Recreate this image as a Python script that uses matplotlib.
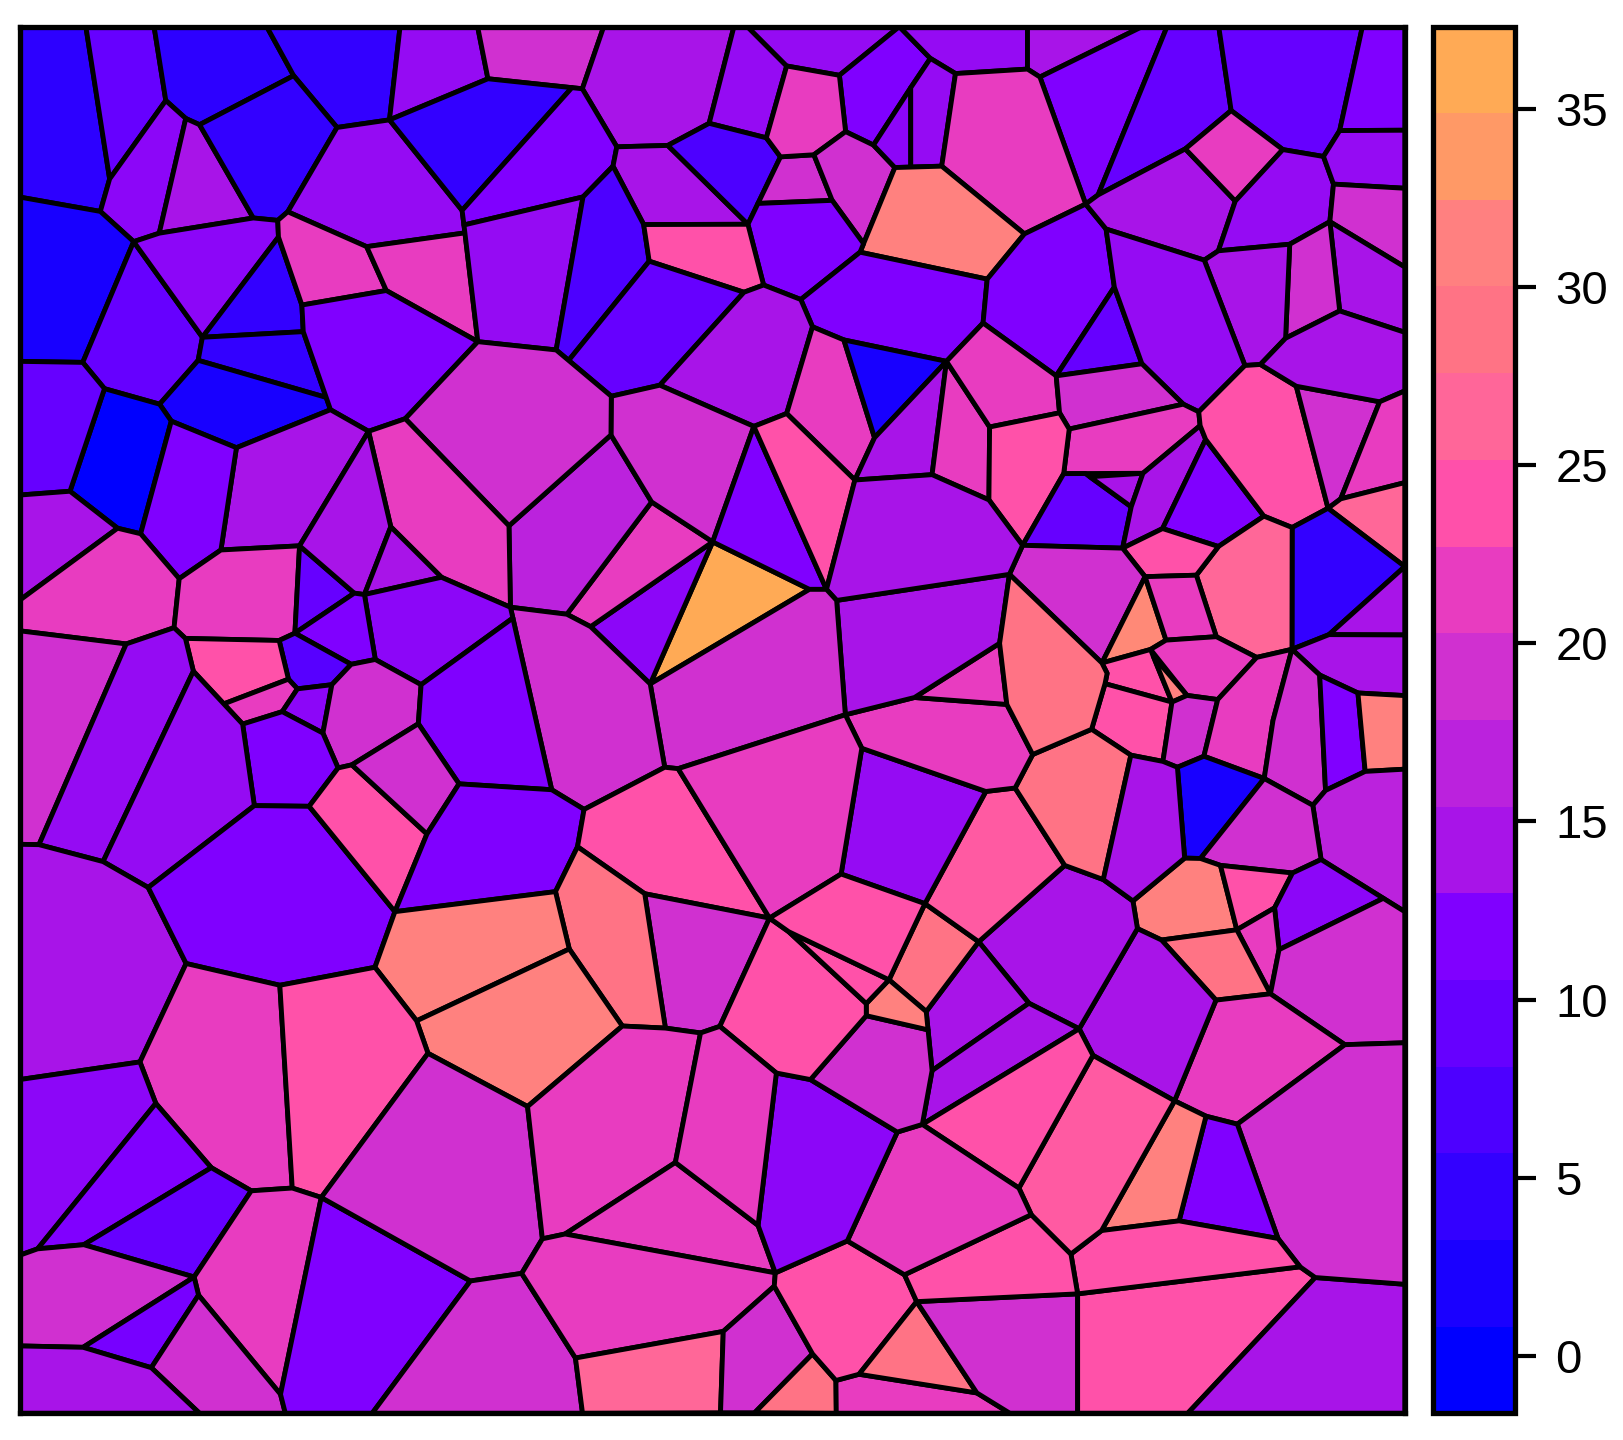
import matplotlib
matplotlib.use("Agg")
import matplotlib.pyplot as plt
import numpy as np
from matplotlib.collections import PolyCollection
from matplotlib.colors import BoundaryNorm, LinearSegmentedColormap, ListedColormap, Normalize
from matplotlib.cm import ScalarMappable

plt.rcParams["font.family"] = ["Liberation Sans", "DejaVu Sans"]

# colour key
band_edges = [-1.61, 0.82, 3.25, 5.69, 8.12, 10.55, 12.98, 15.41, 17.85, 20.28, 22.71, 25.14, 27.57, 30.01, 32.44, 34.87, 37.3]
band_colors = ["#0000FF", "#1A00FF", "#3300FF", "#4D00FF", "#6600FF", "#8000FF", "#A814E8", "#BB22DD",
               "#D030D0", "#E83CC0", "#FF50AA", "#FF6699", "#FF7385", "#FF8080", "#FF9966", "#FFAA55"]
key_ticks = [0, 5, 10, 15, 20, 25, 30, 35]

# one outline per cell
cell_polygons = [
    [(18,26),(82,26),(105,173),(96,204),(18,190)],
    [(82,26),(148,26),(159,97),(105,173)],
    [(148,26),(257,26),(283,73),(192,120),(178,114),(159,97)],
    [(257,26),(386,26),(373,116),(325,124),(283,73)],
    [(386,26),(461,26),(471,76),(376,116)],
    [(461,26),(583,26),(563,86),(471,76)],
    [(583,26),(709,26),(685,119),(645,140),(596,142),(563,86)],
    [(709,26),(722,26),(760,64),(741,133),(685,119)],
    [(722,26),(869,26),(811,73),(760,64)],
    [(869,26),(899,56),(880,85),(844,140),(817,127),(811,73)],
    [(869,26),(993,26),(993,67),(924,71),(899,56)],
    [(993,26),(1104,26),(1005,74),(993,67)],
    [(1104,26),(1128,26),(1061,187),(1048,197),(1005,74)],
    [(1128,26),(1178,26),(1190,105),(1145,141),(1061,187)],
    [(1178,26),(1317,26),(1295,125),(1279,151),(1240,141),(1190,105)],
    [(1317,26),(1358,26),(1358,126),(1295,125)],
    [(105,173),(160,98),(179,115),(153,225),(128,233),(97,205)],
    [(179,115),(192,121),(244,211),(153,225)],
    [(192,121),(283,74),(325,123),(277,205),(267,212),(244,210)],
    [(325,123),(377,116),(446,204),(449,224),(353,238),(277,204)],
    [(377,116),(471,77),(552,87),(446,202)],
    [(561,86),(595,142),(592,160),(562,189),(450,217),(446,204),(552,87)],
    [(596,142),(645,141),(722,216),(621,217),(592,160)],
    [(645,141),(685,120),(740,134),(754,152),(722,217)],
    [(754,152),(786,149),(804,194),(735,198)],
    [(740,133),(760,64),(811,73),(817,127),(786,149),(754,151)],
    [(817,128),(844,141),(864,162),(831,233),(804,193),(787,151)],
    [(844,140),(880,85),(880,160),(864,162)],
    [(880,85),(899,58),(923,72),(910,160),(880,160)],
    [(923,71),(993,67),(1005,76),(1048,196),(990,226),(910,162)],
    [(866,162),(910,160),(990,226),(954,269),(831,243)],
    [(735,198),(804,194),(831,235),(831,243),(774,289),(739,275),(723,217)],
    [(831,245),(954,270),(950,312),(918,348),(816,326),(785,313),(774,289)],
    [(954,270),(990,226),(1048,197),(1068,220),(1077,277),(1020,364),(950,312)],
    [(1077,278),(1103,352),(1024,362)],
    [(1053,199),(1062,191),(1145,146),(1194,194),(1177,242),(1163,251),(1068,222)],
    [(1147,145),(1190,111),(1239,146),(1194,194)],
    [(1241,147),(1279,152),(1289,177),(1284,212),(1246,235),(1179,242),(1194,195)],
    [(1295,129),(1358,126),(1358,181),(1289,177),(1280,151)],
    [(1289,180),(1358,183),(1358,257),(1286,213)],
    [(1288,217),(1358,259),(1358,321),(1295,300)],
    [(1248,237),(1284,215),(1295,299),(1243,326)],
    [(1166,252),(1177,243),(1246,236),(1242,327),(1218,352),(1204,352)],
    [(1071,222),(1163,251),(1202,353),(1158,397),(1144,390),(1104,350),(1077,277)],
    [(18,191),(95,204),(128,233),(79,350),(18,348)],
    [(128,235),(193,326),(190,348),(153,390),(100,375),(79,350)],
    [(129,233),(153,226),(244,211),(267,214),(268,228),(194,326)],
    [(268,231),(290,295),(292,319),(197,325)],
    [(195,326),(292,321),(314,384),(191,348)],
    [(191,348),(314,384),(318,395),(228,431),(165,406),(154,390)],
    [(100,376),(153,391),(164,406),(134,514),(113,509),(67,474)],
    [(18,350),(79,350),(100,375),(67,474),(18,478)],
    [(269,213),(278,205),(353,238),(372,280),(290,294),(269,228)],
    [(355,239),(449,226),(463,328),(457,332),(373,280)],
    [(293,295),(373,282),(457,332),(390,404),(357,413),(318,395),(293,321)],
    [(450,217),(562,191),(537,337),(466,328)],
    [(565,191),(592,162),(621,217),(627,252),(552,344),(537,337)],
    [(623,217),(723,217),(736,275),(718,280),(627,252)],
    [(627,253),(718,283),(636,372),(591,382),(553,344)],
    [(720,284),(738,276),(773,290),(785,317),(760,399),(727,410),(638,372)],
    [(785,317),(813,328),(845,424),(825,463),(760,399)],
    [(817,331),(909,351),(845,420)],
    [(911,350),(900,458),(827,463),(845,424)],
    [(915,350),(955,412),(956,480),(902,458)],
    [(920,346),(950,312),(1019,362),(1024,398),(956,412)],
    [(1020,364),(1104,352),(1143,390),(1033,413),(1024,398)],
    [(1034,415),(1144,391),(1158,398),(1158,410),(1105,456),(1028,457)],
    [(958,413),(1024,400),(1033,415),(1028,457),(987,524),(956,484)],
    [(1028,458),(1049,460),(1093,490),(1084,529),(990,528)],
    [(1057,460),(1104,457),(1093,488)],
    [(1105,458),(1162,413),(1165,424),(1123,510),(1086,527),(1094,490)],
    [(1165,428),(1221,498),(1178,527),(1125,509)],
    [(1204,354),(1217,352),(1252,372),(1283,491),(1249,508),(1222,498),(1166,421),(1160,410),(1160,398)],
    [(1255,375),(1333,388),(1295,482),(1284,490)],
    [(1220,352),(1243,327),(1295,302),(1358,321),(1358,377),(1333,387),(1252,372)],
    [(1335,389),(1358,378),(1358,466),(1296,481)],
    [(1284,491),(1297,482),(1358,466),(1358,546)],
    [(1250,510),(1284,491),(1358,546),(1284,612),(1253,624)],
    [(1284,612),(1358,549),(1358,612)],
    [(1253,626),(1286,614),(1358,614),(1358,671),(1312,669),(1275,651)],
    [(1179,528),(1222,499),(1248,510),(1252,624),(1244,629),(1215,633),(1176,614),(1157,554)],
    [(1087,530),(1123,512),(1176,528),(1156,554),(1108,555)],
    [(989,530),(1083,531),(1102,554),(1065,640),(978,554)],
    [(1104,560),(1125,614),(1112,627),(1065,640)],
    [(1113,558),(1156,558),(1175,614),(1128,619)],
    [(1128,621),(1176,616),(1214,635),(1177,674),(1148,671),(1112,627)],
    [(1065,640),(1112,627),(1133,678),(1068,660),(1070,650)],
    [(1115,634),(1146,670),(1133,675)],
    [(1068,660),(1132,680),(1124,735),(1093,727),(1055,703)],
    [(1133,678),(1148,673),(1177,676),(1167,705),(1164,729),(1138,740),(1124,735)],
    [(1177,676),(1215,636),(1243,630),(1230,695),(1221,749),(1164,730)],
    [(1248,628),(1275,652),(1277,696),(1281,763),(1268,776),(1222,751),(1231,696)],
    [(1277,652),(1311,668),(1317,745),(1282,762)],
    [(1315,670),(1358,672),(1358,742),(1321,744)],
    [(1321,745),(1358,743),(1358,879),(1277,829),(1270,777),(1281,764)],
    [(1139,742),(1163,731),(1221,751),(1159,828),(1145,828)],
    [(1224,755),(1269,779),(1277,828),(1250,841),(1179,834),(1162,828)],
    [(1095,871),(1145,830),(1160,830),(1178,835),(1196,897),(1123,906),(1100,896)],
    [(1182,837),(1248,843),(1231,875),(1198,893)],
    [(1250,844),(1277,832),(1332,870),(1237,915),(1234,876)],
    [(1195,898),(1231,878),(1234,916),(1228,957)],
    [(1125,908),(1193,902),(1226,959),(1176,964)],
    [(1238,919),(1337,873),(1358,881),(1358,1006),(1301,1008),(1230,960)],
    [(1176,967),(1228,961),(1299,1008),(1196,1083),(1166,1076),(1136,1063)],
    [(1100,897),(1120,908),(1174,965),(1133,1057),(1057,1018),(1045,993)],
    [(947,911),(1029,836),(1066,851),(1095,870),(1098,896),(1043,990),(995,967)],
    [(946,910),(993,968),(901,1030),(896,977)],
    [(995,970),(1042,993),(893,1081),(901,1035)],
    [(896,873),(944,908),(896,975),(860,945)],
    [(981,761),(1029,835),(946,907),(895,872),(953,764)],
    [(982,760),(998,729),(1055,706),(1093,729),(1066,848),(1029,835)],
    [(1093,731),(1124,735),(1137,740),(1145,827),(1095,868),(1067,848)],
    [(833,723),(952,764),(893,871),(813,843)],
    [(817,690),(882,674),(973,680),(998,729),(980,761),(953,764),(833,722)],
    [(885,673),(966,621),(973,680)],
    [(809,580),(976,555),(966,621),(884,673),(817,690)],
    [(973,556),(1065,640),(1070,650),(1068,660),(1055,703),(998,727),(973,680),(966,621)],
    [(688,524),(782,569),(628,660)],
    [(571,606),(688,524),(628,660)],
    [(550,594),(629,486),(688,524),(569,603)],
    [(492,508),(590,420),(629,484),(547,592),(493,587)],
    [(590,383),(638,372),(727,410),(690,520),(630,484),(590,420)],
    [(393,404),(463,330),(537,340),(590,383),(590,420),(491,507)],
    [(728,412),(798,569),(782,569),(688,524)],
    [(731,415),(760,400),(825,463),(800,565)],
    [(827,465),(900,459),(955,484),(987,524),(975,553),(809,578),(800,570)],
    [(628,661),(782,569),(796,572),(807,581),(816,688),(650,742),(642,740)],
    [(494,590),(545,593),(571,606),(628,660),(642,740),(565,780),(533,762)],
    [(355,418),(390,405),(491,508),(493,585),(426,556),(377,506)],
    [(228,433),(320,397),(355,417),(288,528),(213,531)],
    [(165,408),(227,433),(213,530),(173,557),(136,515)],
    [(18,478),(66,475),(112,510),(18,578)],
    [(18,581),(113,511),(135,517),(171,559),(167,605),(121,621),(18,608)],
    [(173,560),(212,532),(290,528),(282,610),(269,617),(177,615),(168,606)],
    [(289,527),(343,572),(283,610)],
    [(288,525),(355,418),(377,508),(350,572),(341,572)],
    [(377,512),(426,557),(353,572)],
    [(353,576),(426,559),(491,583),(491,597),(406,660),(363,636)],
    [(341,574),(350,576),(361,636),(339,641),(286,612)],
    [(271,619),(286,613),(338,641),(319,661),(287,665),(278,655)],
    [(180,619),(267,619),(276,655),(216,676),(185,647)],
    [(217,681),(280,657),(285,665),(271,687),(233,697)],
    [(273,686),(288,665),(318,662),(311,707)],
    [(323,660),(339,642),(362,638),(406,661),(403,698),(339,738),(326,740),(313,708)],
    [(407,662),(492,598),(533,762),(443,756),(404,698)],
    [(235,700),(272,688),(310,708),(326,742),(298,778),(245,777)],
    [(18,610),(120,622),(36,815),(18,814)],
    [(122,622),(167,607),(178,615),(185,647),(98,830),(38,815)],
    [(188,650),(233,700),(245,777),(142,856),(100,832)],
    [(18,816),(36,816),(98,833),(142,857),(179,930),(134,1024),(18,1041)],
    [(245,779),(298,779),(381,881),(361,933),(270,951),(178,929),(143,857)],
    [(298,778),(326,742),(337,739),(412,806),(381,878)],
    [(342,738),(404,700),(443,757),(412,803)],
    [(443,757),(532,763),(562,781),(557,816),(536,860),(381,879),(412,806)],
    [(565,783),(642,742),(655,742),(741,884),(623,862),(558,817)],
    [(660,742),(817,692),(832,722),(812,843),(744,884)],
    [(624,864),(740,885),(695,990),(677,996),(643,992)],
    [(558,819),(621,862),(642,991),(601,990),(549,915),(537,860)],
    [(381,882),(536,862),(550,915),(401,984),(363,933)],
    [(404,986),(550,918),(601,990),(509,1067),(413,1017)],
    [(180,931),(268,951),(282,1146),(243,1148),(204,1126),(150,1064),(135,1025)],
    [(271,951),(361,935),(401,986),(413,1016),(313,1155),(282,1146)],
    [(18,1043),(134,1026),(149,1064),(35,1205),(18,1211)],
    [(36,1206),(150,1067),(203,1126),(78,1201)],
    [(84,1201),(203,1129),(240,1150),(187,1230)],
    [(243,1150),(281,1148),(305,1156),(270,1345),(191,1248),(188,1234)],
    [(18,1212),(35,1205),(78,1202),(186,1232),(78,1300),(18,1298)],
    [(82,1300),(186,1234),(191,1250),(145,1319)],
    [(191,1252),(270,1347),(274,1364),(193,1364),(147,1320)],
    [(18,1300),(78,1301),(144,1321),(191,1364),(18,1364)],
    [(308,1157),(452,1236),(357,1364),(276,1364),(271,1345)],
    [(313,1155),(413,1017),(509,1067),(523,1196),(503,1228),(455,1236)],
    [(503,1230),(554,1311),(562,1364),(361,1364),(455,1237)],
    [(510,1070),(601,991),(643,994),(675,997),(652,1121),(543,1190),(524,1194)],
    [(549,1191),(652,1123),(731,1183),(749,1227)],
    [(505,1229),(524,1197),(545,1192),(748,1229),(750,1240),(699,1284),(556,1309)],
    [(557,1312),(699,1286),(696,1364),(563,1364)],
    [(698,1285),(747,1243),(785,1305),(727,1363),(696,1363)],
    [(731,1364),(785,1310),(806,1332),(807,1364)],
    [(809,1334),(831,1328),(944,1345),(974,1364),(809,1364)],
    [(749,1232),(818,1199),(873,1231),(884,1258),(829,1325),(808,1331),(785,1305),(747,1241)],
    [(884,1258),(944,1344),(830,1326)],
    [(888,1256),(1040,1250),(1041,1364),(978,1364),(944,1344)],
    [(1044,1250),(1257,1225),(1270,1233),(1146,1364),(1042,1364)],
    [(1272,1233),(1358,1240),(1358,1364),(1150,1364)],
    [(1197,1086),(1300,1009),(1358,1007),(1358,1239),(1272,1233),(1258,1221),(1237,1196)],
    [(1167,1079),(1195,1086),(1234,1193),(1142,1178)],
    [(1138,1067),(1164,1077),(1138,1177),(1068,1186)],
    [(1064,1189),(1139,1180),(1235,1197),(1255,1222),(1042,1247),(1035,1211)],
    [(876,1231),(996,1174),(1035,1211),(1040,1248),(887,1253)],
    [(986,1147),(1057,1019),(1134,1063),(1062,1188),(1035,1209),(997,1171)],
    [(893,1086),(1042,996),(1055,1019),(984,1146)],
    [(821,1197),(867,1094),(889,1088),(984,1147),(997,1172),(873,1229)],
    [(750,1037),(782,1044),(867,1092),(817,1197),(750,1226),(734,1183)],
    [(785,1041),(836,983),(892,996),(900,1035),(890,1086),(867,1092)],
    [(838,971),(859,950),(893,977),(892,993),(839,979)],
    [(696,990),(745,891),(762,900),(836,968),(836,979),(782,1041),(750,1033)],
    [(762,899),(858,946),(837,967)],
    [(747,887),(813,845),(891,873),(859,942),(762,899)],
    [(678,998),(695,992),(750,1037),(732,1182),(653,1122)],
]

cell_values = [
    4, 9.3, 4, 4.5, 13, 19.1, 14.2, 13, 13, 11.8,
    13, 14.2, 11.8, 9.3, 9.3, 11.8, 12.5, 14.2, 4.5, 13,
    4.5, 11.8, 14.2, 6.9, 19.1, 21.5, 19.1, 12.5, 13, 21.5,
    31.3, 11.8, 11.8, 11.8, 9.3, 14.2, 21.5, 13, 13, 19.1,
    14.2, 19.1, 14.2, 13, 2, 9.3, 12.5, 4.5, 4.5, 2,
    -0.4, 9.3, 21.5, 21.5, 11.8, 13, 6.9, 24, 9.3, 14.2,
    21.5, 2, 14.2, 21.5, 21.5, 19.1, 21.5, 24, 9.3, 14.2,
    14.2, 11.8, 24, 19.1, 14.2, 21.5, 26.4, 4.5, 14.2, 14.2,
    26.4, 24, 19.1, 32, 21.5, 21.5, 24, 31.3, 24, 19.1,
    21.5, 19.1, 11.8, 31.3, 16.6, 2, 19.1, 31.3, 24, 12.5,
    21.5, 28.8, 19.1, 21.5, 14.2, 14.2, 14.2, 14.2, 28.8, 25,
    28.8, 14.2, 13, 21.5, 21.5, 14.2, 28.8, 36.1, 12.5, 21.5,
    16.6, 19.1, 19.1, 11.8, 24, 14.2, 19.1, 19.1, 21.5, 14.2,
    11.8, 14.2, 21.5, 21.5, 9.3, 14.2, 14.2, 12.5, 11.8, 8,
    24, 21.5, 12.5, 19.1, 11.8, 11.8, 19.1, 13, 13, 14.2,
    11.8, 24, 19.1, 11.8, 24, 21.5, 19.1, 28.8, 31.3, 31.3,
    21.5, 24, 12.5, 11.8, 9.3, 21.5, 19.1, 11, 19.1, 14.2,
    11.8, 19.1, 19.1, 21.5, 21.5, 21.5, 26.4, 19.1, 28.8, 21.5,
    24, 28.8, 19.1, 24, 14.2, 19.1, 11.8, 31.3, 24, 24,
    25, 24, 21.5, 12.5, 19.1, 31.3, 24, 24, 24, 21.5,
]


def snap_corners(polygons, radius=7.0, edge_gap=6.0):
    # corners were read one cell at a time, so shared ones differ by a few units
    sizes = [len(p) for p in polygons]
    pts = np.array([c for p in polygons for c in p], dtype=float)
    labels = np.arange(len(pts))
    for i in range(len(pts)):
        near = np.where(np.hypot(*(pts - pts[i]).T) < radius)[0]
        labels[np.isin(labels, labels[near])] = labels[i]
    for lab in np.unique(labels):
        pts[labels == lab] = pts[labels == lab].mean(axis=0)
    # corners that land just beside a neighbour's edge go onto that edge
    ends = np.cumsum(sizes)
    starts = ends - np.array(sizes)
    for _ in range(3):
        for i in range(len(pts)):
            best, target = edge_gap, None
            for s, e in zip(starts, ends):
                idx = list(range(s, e))
                for a, b in zip(idx, idx[1:] + idx[:1]):
                    seg = pts[b] - pts[a]
                    length2 = seg @ seg
                    if length2 < 1:
                        continue
                    t = (pts[i] - pts[a]) @ seg / length2
                    foot = pts[a] + t * seg
                    d = np.hypot(*(pts[i] - foot))
                    if 0.02 < t < 0.98 and d < best and d > 0.01 \
                            and np.hypot(*(pts[i] - pts[a])) > 2 and np.hypot(*(pts[i] - pts[b])) > 2:
                        best, target = d, foot
            if target is not None:
                pts[np.hypot(*(pts - pts[i]).T) < 0.01] = target
    return [pts[s:e] for s, e in zip(starts, ends)]


W, H = 1623, 1440
fig = plt.figure(figsize=(W / 100, H / 100), dpi=100)


def px_axes(left, top, right, bottom):
    return fig.add_axes([left / W, 1 - bottom / H, (right - left) / W, (bottom - top) / H])


# cells take a smooth ramp through the middle of each key band
centers = (np.array(band_edges[:-1]) + np.array(band_edges[1:])) / 2
cell_norm = Normalize(centers[0], centers[-1])
cell_cmap = LinearSegmentedColormap.from_list(
    "cells", list(zip((centers - centers[0]) / (centers[-1] - centers[0]), band_colors)))

ax = px_axes(19.7, 26.6, 1404.8, 1413.3)
ax.set_facecolor("black")
cells = PolyCollection(snap_corners(cell_polygons), array=np.array(cell_values), cmap=cell_cmap, norm=cell_norm,
                       edgecolors="black", linewidths=3.5, joinstyle="round")
ax.add_collection(cells)
ax.set_xlim(18, 1358)
ax.set_ylim(1364, 26)
ax.set_xticks([])
ax.set_yticks([])
for s in ax.spines.values():
    s.set_linewidth(3.8)

# colour key on the right
cax = px_axes(1433, 26.6, 1515, 1413.3)
key_norm = BoundaryNorm(band_edges, len(band_colors))
cb = fig.colorbar(ScalarMappable(norm=key_norm, cmap=ListedColormap(band_colors)), cax=cax,
                  spacing="proportional", ticks=key_ticks, drawedges=False)
cb.outline.set_linewidth(3.8)
cb.ax.minorticks_off()
cb.ax.tick_params(length=15, width=3, labelsize=34, pad=14)

fig.savefig("out.png", dpi=100)
